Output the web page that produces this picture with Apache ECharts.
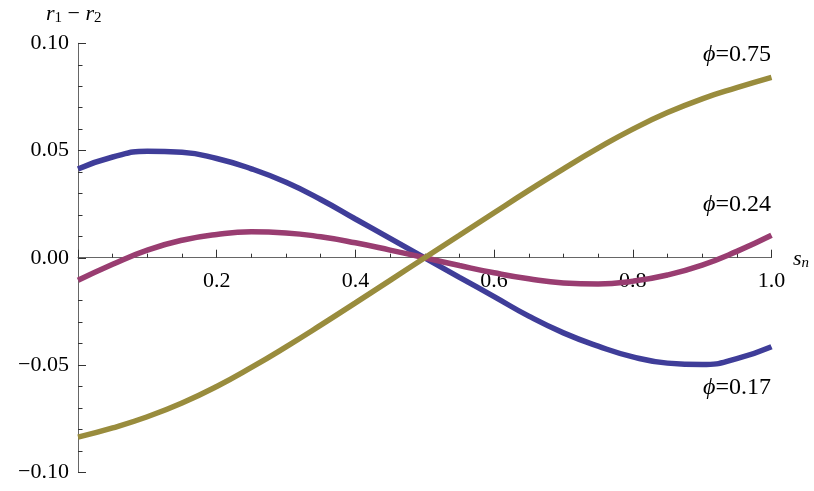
<!DOCTYPE html>
<html>
<head>
<meta charset="utf-8">
<script src="https://cdn.jsdelivr.net/npm/echarts@6/dist/echarts.min.js"></script>
<style>
  html, body { margin: 0; padding: 0; background: #fff; }
  #main { width: 814px; height: 491px; }
</style>
</head>
<body>
<div id="main"></div>
<script>
var sn = [0, 0.05, 0.1, 0.15, 0.2, 0.25, 0.3, 0.35, 0.4, 0.45, 0.5,
          0.55, 0.6, 0.65, 0.7, 0.75, 0.8, 0.85, 0.9, 0.95, 1.0];

// phi = 0.17
var phi017 = [0.0414, 0.0470, 0.0497, 0.0492, 0.0463, 0.0415, 0.0352, 0.0272, 0.0181, 0.0091, 0,
              -0.0091, -0.0181, -0.0272, -0.0350, -0.0412, -0.0462, -0.0491, -0.0498, -0.0470, -0.0415];
// phi = 0.24
var phi024 = [-0.0105, -0.0030, 0.0036, 0.0082, 0.0109, 0.0121, 0.0116, 0.0098, 0.0070, 0.0036, 0,
              -0.0036, -0.0070, -0.0098, -0.0117, -0.0122, -0.0109, -0.0080, -0.0034, 0.0030, 0.0105];
// phi = 0.75
var phi075 = [-0.0836, -0.0793, -0.0741, -0.0677, -0.0600, -0.0511, -0.0415, -0.0314, -0.0210, -0.0105, 0,
              0.0105, 0.0210, 0.0314, 0.0415, 0.0511, 0.0600, 0.0677, 0.0741, 0.0793, 0.0841];

var xTicks = [0.2, 0.4, 0.6, 0.8, 1.0];
var yTicks = [-0.10, -0.05, 0.00, 0.05, 0.10];

var colors = ['#3f3d99', '#993d71', '#998c3d'];
var serif = '"Liberation Serif", "DejaVu Serif", serif';

function pairs(ys) {
    var out = [];
    for (var i = 0; i < sn.length; i++) out.push([sn[i], ys[i]]);
    return out;
}

function lineSeries(name, ys, color) {
    return {
        name: name,
        type: 'line',
        data: pairs(ys),
        smooth: 0.5,
        showSymbol: false,
        lineStyle: { color: color, width: 5.5 },
        emphasis: { disabled: true },
        z: 3
    };
}

function phiLabel(txt, y) {
    return {
        type: 'text', x: 771, y: y,
        style: {
            text: '{p|\u03d5}{t|=' + txt + '}',
            align: 'right', verticalAlign: 'middle',
            rich: {
                p: { fontFamily: serif, fontStyle: 'italic', fontSize: 24, fill: '#000' },
                t: { fontFamily: serif, fontSize: 24, fill: '#000' }
            }
        }
    };
}

var chart = echarts.init(document.getElementById('main'));

chart.setOption({
    animation: false,
    grid: { left: 78, right: 42.5, top: 43.3, bottom: 18.7, containLabel: false, outerBoundsMode: 'none' },
    xAxis: {
        type: 'value',
        min: 0,
        max: 1,
        interval: 0.2,
        offset: -214.6,
        axisLine: { onZero: false, lineStyle: { color: '#666', width: 1 } },
        axisTick: { inside: true, length: 8, lineStyle: { color: '#333' } },
        minorTick: { show: true, splitNumber: 4, length: 4, lineStyle: { color: '#333' } },
        splitLine: { show: false },
        axisLabel: {
            color: '#000', fontFamily: serif, fontSize: 22, margin: 13,
            formatter: function (v) {
                for (var i = 0; i < xTicks.length; i++) {
                    if (Math.abs(xTicks[i] - v) < 1e-9) return v.toFixed(1);
                }
                return '';
            }
        }
    },
    yAxis: {
        type: 'value',
        min: -0.1,
        max: 0.1,
        interval: 0.05,
        axisLine: { show: true, onZero: false, lineStyle: { color: '#666', width: 1 } },
        axisTick: { show: true, inside: true, length: 8, lineStyle: { color: '#333' } },
        minorTick: { show: true, splitNumber: 5, length: 4.5, lineStyle: { color: '#333' } },
        splitLine: { show: false },
        axisLabel: {
            color: '#000', fontFamily: serif, fontSize: 22, margin: 9,
            formatter: function (v) {
                for (var i = 0; i < yTicks.length; i++) {
                    if (Math.abs(yTicks[i] - v) < 1e-9) {
                        var s = Math.abs(v).toFixed(2);
                        return v < 0 ? '\u2212' + s : s;
                    }
                }
                return '';
            }
        }
    },
    series: [
        lineSeries('phi=0.17', phi017, colors[0]),
        lineSeries('phi=0.24', phi024, colors[1]),
        lineSeries('phi=0.75', phi075, colors[2])
    ],
    graphic: [
        {
            type: 'text', left: 46, top: 3,
            style: {
                text: '{i|r}{s|1}{o| \u2212 }{i|r}{s|2}',
                rich: {
                    i: { fontFamily: serif, fontStyle: 'italic', fontSize: 22, fill: '#000' },
                    o: { fontFamily: serif, fontSize: 22, fill: '#000' },
                    s: { fontFamily: serif, fontSize: 15, fill: '#000', padding: [9, 0, 0, 0] }
                }
            }
        },
        {
            type: 'text', left: 793, top: 248,
            style: {
                text: '{i|s}{s|n}',
                rich: {
                    i: { fontFamily: serif, fontStyle: 'italic', fontSize: 22, fill: '#000' },
                    s: { fontFamily: serif, fontStyle: 'italic', fontSize: 15, fill: '#000', padding: [9, 0, 0, 0] }
                }
            }
        },
        phiLabel('0.75', 55),
        phiLabel('0.24', 205),
        phiLabel('0.17', 388)
    ]
});
</script>
</body>
</html>
